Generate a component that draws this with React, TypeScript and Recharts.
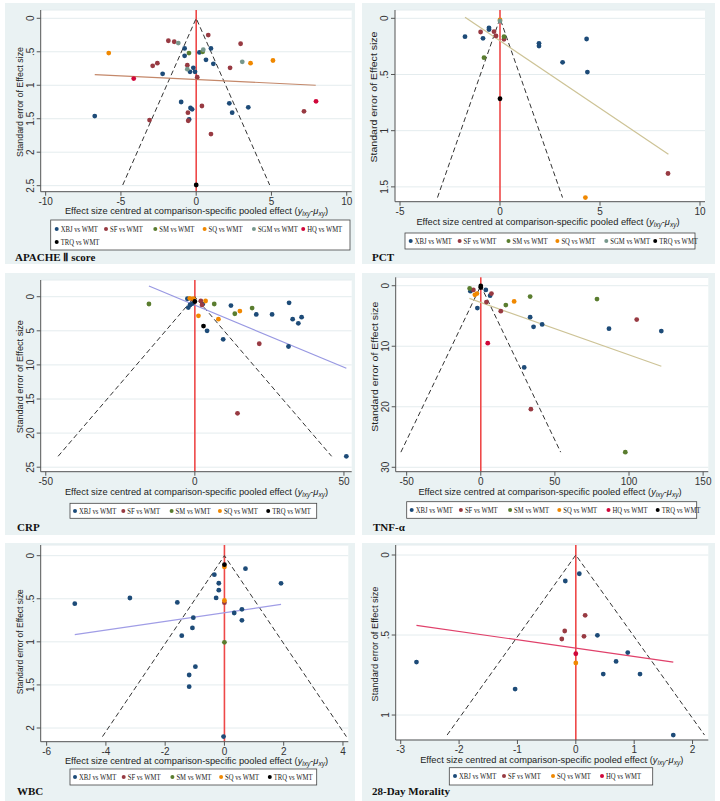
import React from 'react';
import { ScatterChart, Scatter, XAxis, YAxis, CartesianGrid, ReferenceLine } from 'recharts';

type Pt = [number, number];

// Stata s2color-like marker colours per comparison
const groupColors: Record<string, string> = {
  XBJ: '#1d4b78',
  SF: '#983a42',
  SM: '#5a7d2f',
  SQ: '#f08800',
  SGM: '#76978c',
  HQ: '#d0073a',
  TRQ: '#000000',
};

// ---- APACHE II score ----
const apacheXTicks = [-10, -5, 0, 5, 10];
const apacheYTicks = [0, 0.5, 1, 1.5, 2, 2.5];
const apacheXBJ: Pt[] = [[-6.74, 1.46], [-2.23, 0.83], [-0.77, 0.45], [-0.77, 0.56], [-0.19, 0.74], [-0.41, 0.8], [-0.08, 0.8], [0.21, 0.51], [0.98, 0.45], [0.65, 0.62], [1.14, 0.68], [-1.0, 1.25], [-0.38, 1.34], [-0.27, 1.36], [-0.47, 1.51], [2.2, 1.27], [2.39, 1.41], [3.46, 1.33]];
const apacheSF: Pt[] = [[-1.85, 0.335], [-1.46, 0.35], [0.8, 0.25], [2.95, 0.38], [-2.58, 0.67], [-2.89, 0.71], [-0.59, 0.7], [0.07, 0.88], [2.25, 0.74], [0.38, 1.31], [-0.55, 1.41], [-0.53, 1.53], [-3.1, 1.52], [0.98, 1.73], [7.16, 1.39]];
const apacheSM: Pt[] = [[-0.48, 0.52], [0.43, 0.5]];
const apacheSQ: Pt[] = [[-5.81, 0.52], [3.61, 0.67], [5.1, 0.63]];
const apacheSGM: Pt[] = [[-1.19, 0.37], [0.47, 0.47], [3.06, 0.65], [-0.59, 0.76]];
const apacheHQ: Pt[] = [[-4.15, 0.9], [7.96, 1.24]];
const apacheTRQ: Pt[] = [[0, 2.49]];
const apacheFit: Pt[] = [[-6.74, 0.84], [7.94, 1.0]];

// ---- PCT ----
const pctXTicks = [-5, 0, 5, 10];
const pctYTicks = [0, 0.5, 1, 1.5];
const pctXBJ: Pt[] = [[-1.75, 0.163], [-0.85, 0.178], [-0.55, 0.085], [-0.55, 0.1], [1.95, 0.223], [1.95, 0.247], [4.33, 0.184], [3.13, 0.392], [4.37, 0.478]];
const pctSF: Pt[] = [[-0.97, 0.122], [-0.3, 0.119], [-0.2, 0.157], [0.2, 0.187], [8.4, 1.381]];
const pctSM: Pt[] = [[-0.8, 0.35], [0.2, 0.163]];
const pctSQ: Pt[] = [[0, 0.015], [4.27, 1.595]];
const pctSGM: Pt[] = [[0, 0.024]];
const pctTRQ: Pt[] = [[0, 0.716]];
const pctFit: Pt[] = [[-1.75, -0.009], [8.42, 1.209]];

// ---- CRP ----
const crpXTicks = [-50, 0, 50];
const crpYTicks = [0, 5, 10, 15, 20, 25];
const crpXBJ: Pt[] = [[-2.5, 0.3], [-1.6, 1.2], [-2.2, 1.6], [-0.8, 1.0], [2.6, 1.1], [12.1, 1.3], [31.6, 0.9], [20.6, 2.6], [25.9, 2.6], [32.8, 3.3], [35.8, 3.0], [34.7, 3.9], [4.1, 5.0], [9.5, 6.25], [31.4, 7.3], [50.8, 23.4]];
const crpSF: Pt[] = [[-0.9, 0.35], [2.0, 0.6], [2.4, 1.2], [21.6, 6.9], [14.3, 17.1]];
const crpSM: Pt[] = [[-15.4, 1.07], [6.5, 1.07], [19.2, 1.66], [13.4, 2.5]];
const crpSQ: Pt[] = [[-1.7, 0.24], [-0.5, 0.3], [3.6, 0.63], [15.1, 2.1], [1.2, 2.8], [7.9, 3.3]];
const crpTRQ: Pt[] = [[0, 0.7], [2.9, 4.3]];
const crpFit: Pt[] = [[-15.4, -1.56], [50.8, 10.5]];

// ---- TNF-α ----
const tnfXTicks = [-50, 0, 50, 100, 150];
const tnfYTicks = [0, 10, 20, 30];
const tnfXBJ: Pt[] = [[-7.0, 0.9], [3.4, 0.7], [6.3, 1.65], [-2.3, 3.7], [33.3, 5.2], [35.6, 6.8], [41.4, 6.4], [86.5, 7.1], [121.8, 7.5], [29.3, 13.5]];
const tnfSF: Pt[] = [[-5.0, 0.7], [7.2, 1.3], [3.8, 2.7], [13.5, 4.2], [105.2, 5.6], [33.8, 20.4]];
const tnfSM: Pt[] = [[-7.5, 0.45], [16.9, 3.2], [33.3, 1.8], [78.4, 2.2], [97.5, 27.5]];
const tnfSQ: Pt[] = [[-4.0, 1.5], [-2.6, 1.3], [22.5, 2.6]];
const tnfHQ: Pt[] = [[4.7, 9.5]];
const tnfTRQ: Pt[] = [[0, 0.05], [0, 0.3]];
const tnfFit: Pt[] = [[-7.7, 2.1], [121.8, 13.3]];

// ---- WBC ----
const wbcXTicks = [-6, -4, -2, 0, 2, 4];
const wbcYTicks = [0, 0.5, 1, 1.5, 2];
const wbcXBJ: Pt[] = [[-5.05, 0.557], [-3.19, 0.491], [-1.59, 0.542], [-0.34, 0.22], [-0.19, 0.32], [-0.19, 0.4], [-0.28, 0.49], [0.71, 0.151], [1.91, 0.321], [0.59, 0.623], [0.33, 0.665], [0.59, 0.75], [-1.05, 0.72], [-1.08, 0.839], [-1.44, 0.928], [-0.98, 1.288], [-1.19, 1.385], [-1.19, 1.52], [-0.03, 2.1]];
const wbcSF: Pt[] = [[0, 0.545]];
const wbcSM: Pt[] = [[0, 1.006]];
const wbcSQ: Pt[] = [[0, 0.13], [0, 0.52]];
const wbcTRQ: Pt[] = [[0, 0.104]];
const wbcFit: Pt[] = [[-5.05, 0.917], [1.91, 0.565]];

// ---- 28-Day Morality ----
const mortXTicks = [-3, -2, -1, 0, 1, 2];
const mortYTicks = [0, 0.5, 1];
const mortXBJ: Pt[] = [[-2.73, 0.669], [-1.04, 0.8375], [-0.18, 0.1625], [0.06, 0.117], [0.37, 0.502], [0.89, 0.61], [0.69, 0.665], [0.47, 0.744], [1.1, 0.744], [1.67, 1.125]];
const mortSF: Pt[] = [[0.16, 0.377], [-0.19, 0.475], [-0.24, 0.525], [0.14, 0.508]];
const mortSQ: Pt[] = [[0, 0.675]];
const mortHQ: Pt[] = [[0, 0.617]];
const mortFit: Pt[] = [[-2.73, 0.44], [1.67, 0.669]];

type Box = { x: number; y: number; w: number; h: number };
type PanelCfg = {
  title: string;
  series: [string, Pt[]][];
  fit: Pt[];
  fitColor: string;
  xTicks: number[];
  yTicks: number[];
  xDomain: [number, number];
  yDomain: [number, number];
  box: Box;
  plot: Box;
  legend: { box: Box; rows: number[]; dot0: number; step: number; perRow: number };
  yTitle: { x: number; cy: number; len: number };
  xTitle: { cx: number; cy: number };
  titlePos: { x: number; y: number };
};

const panels: PanelCfg[] = [
  {
    title: 'APACHE Ⅱ score',
    series: [['XBJ', apacheXBJ], ['SF', apacheSF], ['SM', apacheSM], ['SQ', apacheSQ], ['SGM', apacheSGM], ['HQ', apacheHQ], ['TRQ', apacheTRQ]],
    fit: apacheFit, fitColor: '#c4886a',
    xTicks: apacheXTicks, yTicks: apacheYTicks,
    xDomain: [-10.33, 10.33], yDomain: [-0.124, 2.59],
    box: { x: 5, y: 3, w: 350, h: 261 },
    plot: { x: 40.7, y: 10, w: 311, h: 181.7 },
    legend: { box: { x: 50.7, y: 220, w: 299.3, h: 30 }, rows: [229, 242], dot0: 56.7, step: 49.3, perRow: 6 },
    yTitle: { x: 20, cy: 102, len: 110 },
    xTitle: { cx: 196.5, cy: 210.7 },
    titlePos: { x: 15, y: 261 },
  },
  {
    title: 'PCT',
    series: [['XBJ', pctXBJ], ['SF', pctSF], ['SM', pctSM], ['SQ', pctSQ], ['SGM', pctSGM], ['TRQ', pctTRQ]],
    fit: pctFit, fitColor: '#cdc396',
    xTicks: pctXTicks, yTicks: pctYTicks,
    xDomain: [-5.25, 10.25], yDomain: [-0.074, 1.632],
    box: { x: 362, y: 3, w: 353, h: 261 },
    plot: { x: 395, y: 10, w: 310, h: 191.7 },
    legend: { box: { x: 405, y: 233, w: 290, h: 16 }, rows: [241], dot0: 410.7, step: 48.9, perRow: 6 },
    yTitle: { x: 373.3, cy: 97, len: 131 },
    xTitle: { cx: 548, cy: 221.7 },
    titlePos: { x: 372, y: 261 },
  },
  {
    title: 'CRP',
    series: [['XBJ', crpXBJ], ['SF', crpSF], ['SM', crpSM], ['SQ', crpSQ], ['TRQ', crpTRQ]],
    fit: crpFit, fitColor: '#9898e2',
    xTicks: crpXTicks, yTicks: crpYTicks,
    xDomain: [-51.7, 52.6], yDomain: [-2.45, 25.66],
    box: { x: 5, y: 273, w: 350, h: 262 },
    plot: { x: 40.7, y: 280, w: 311, h: 191.7 },
    legend: { box: { x: 70, y: 503.3, w: 246.7, h: 15 }, rows: [511], dot0: 75, step: 48.3, perRow: 6 },
    yTitle: { x: 20, cy: 376.7, len: 113 },
    xTitle: { cx: 196.5, cy: 491.7 },
    titlePos: { x: 17, y: 531 },
  },
  {
    title: 'TNF-α',
    series: [['XBJ', tnfXBJ], ['SF', tnfSF], ['SM', tnfSM], ['SQ', tnfSQ], ['HQ', tnfHQ], ['TRQ', tnfTRQ]],
    fit: tnfFit, fitColor: '#cdc396',
    xTicks: tnfXTicks, yTicks: tnfYTicks,
    xDomain: [-57.4, 153.5], yDomain: [-1.39, 30.73],
    box: { x: 362, y: 273, w: 353, h: 262 },
    plot: { x: 395.7, y: 277.3, w: 312.6, h: 194.4 },
    legend: { box: { x: 406.7, y: 501.7, w: 290, h: 16.6 }, rows: [510], dot0: 411.7, step: 49.2, perRow: 6 },
    yTitle: { x: 375, cy: 366.7, len: 130 },
    xTitle: { cx: 550, cy: 491.7 },
    titlePos: { x: 373, y: 531 },
  },
  {
    title: 'WBC',
    series: [['XBJ', wbcXBJ], ['SF', wbcSF], ['SM', wbcSM], ['SQ', wbcSQ], ['TRQ', wbcTRQ]],
    fit: wbcFit, fitColor: '#a09de6',
    xTicks: wbcXTicks, yTicks: wbcYTicks,
    xDomain: [-6.2, 4.18], yDomain: [-0.124, 2.159],
    box: { x: 5, y: 543, w: 350, h: 258 },
    plot: { x: 40.7, y: 545, w: 307.6, h: 196.7 },
    legend: { box: { x: 70, y: 769, w: 246.7, h: 16 }, rows: [777], dot0: 75, step: 48.7, perRow: 6 },
    yTitle: { x: 20, cy: 641.7, len: 105 },
    xTitle: { cx: 196.5, cy: 761 },
    titlePos: { x: 17, y: 795 },
  },
  {
    title: '28-Day Morality',
    series: [['XBJ', mortXBJ], ['SF', mortSF], ['SQ', mortSQ], ['HQ', mortHQ]],
    fit: mortFit, fitColor: '#e0406a',
    xTicks: mortXTicks, yTicks: mortYTicks,
    xDomain: [-3.086, 2.27], yDomain: [-0.0625, 1.156],
    box: { x: 362, y: 543, w: 353, h: 258 },
    plot: { x: 395.7, y: 545, w: 312.6, h: 195 },
    legend: { box: { x: 449.3, y: 767.7, w: 203.4, h: 17.3 }, rows: [776], dot0: 455, step: 49, perRow: 6 },
    yTitle: { x: 375, cy: 644, len: 115 },
    xTitle: { cx: 551.7, cy: 760 },
    titlePos: { x: 372, y: 795 },
  },
];

const SANS = '"Liberation Sans", Arial, sans-serif';
const SERIF = '"Liberation Serif", "Times New Roman", serif';
const AXIS = '#555';
const Y_AXIS_W = 30;
const X_AXIS_H = 20;

const toPts = (a: Pt[]) => a.map(([x, y]) => ({ x, y }));
const fmtTick = (v: number) => (v === 0 ? '0' : String(v).replace(/^0\./, '.'));

function YTick(props: any) {
  const { x, y, payload } = props;
  const bx = x - 1;
  return (
    <text x={bx} y={y} transform={`rotate(-90 ${bx} ${y})`} textAnchor="middle" fontSize={10} fill="#333" fontFamily={SANS}>
      {fmtTick(payload.value)}
    </text>
  );
}

const dot = (color: string) => (p: any) => <circle cx={p.cx} cy={p.cy} r={2.4} fill={color} />;
const noDot = () => <g />;

function PanelChart({ cfg }: { cfg: PanelCfg }) {
  const { box, plot } = cfg;
  const seMax = Math.max(...cfg.series.flatMap(([, pts]) => pts.map((p) => p[1])));
  const funnel = [
    { x: -1.96 * seMax, y: seMax },
    { x: 0, y: 0 },
    { x: 1.96 * seMax, y: seMax },
  ];
  const margin = {
    left: plot.x - box.x - Y_AXIS_W,
    top: plot.y - box.y,
    right: box.x + box.w - (plot.x + plot.w),
    bottom: box.y + box.h - (plot.y + plot.h) - X_AXIS_H,
  };
  return (
    <div style={{ position: 'absolute', left: box.x, top: box.y, width: box.w, height: box.h, background: '#eaf2f3' }}>
      <ScatterChart width={box.w} height={box.h} margin={margin}>
        <CartesianGrid vertical={false} fill="#ffffff" fillOpacity={1} stroke="#e4ecee" />
        <XAxis
          type="number"
          dataKey="x"
          domain={cfg.xDomain}
          ticks={cfg.xTicks}
          allowDataOverflow
          height={X_AXIS_H}
          tickSize={4}
          tickMargin={2}
          stroke={AXIS}
          tick={{ fontSize: 10, fill: '#333', fontFamily: SANS }}
        />
        <YAxis
          type="number"
          dataKey="y"
          domain={cfg.yDomain}
          ticks={cfg.yTicks}
          allowDataOverflow
          reversed
          width={Y_AXIS_W}
          tickSize={4}
          tickMargin={2}
          stroke={AXIS}
          tick={<YTick />}
        />
        <ReferenceLine x={0} stroke="#ee4848" strokeWidth={1.6} />
        <Scatter
          data={funnel}
          line={{ stroke: '#333', strokeWidth: 1, strokeDasharray: '5 3' }}
          shape={noDot}
          isAnimationActive={false}
        />
        <Scatter
          data={toPts(cfg.fit)}
          line={{ stroke: cfg.fitColor, strokeWidth: 1.2 }}
          shape={noDot}
          isAnimationActive={false}
        />
        {cfg.series.map(([name, pts]) => (
          <Scatter key={name} name={`${name} vs WMT`} data={toPts(pts)} shape={dot(groupColors[name])} isAnimationActive={false} />
        ))}
      </ScatterChart>
    </div>
  );
}

function PanelText({ cfg }: { cfg: PanelCfg }) {
  const { legend, yTitle, xTitle } = cfg;
  const yb = yTitle.x + 3.4;
  return (
    <g>
      <text
        x={yb}
        y={yTitle.cy}
        transform={`rotate(-90 ${yb} ${yTitle.cy})`}
        textAnchor="middle"
        fontSize={9.5}
        fill="#222"
        fontFamily={SANS}
        textLength={yTitle.len}
        lengthAdjust="spacingAndGlyphs"
      >
        Standard error of Effect size
      </text>
      <text x={xTitle.cx} y={xTitle.cy + 3.4} textAnchor="middle" fontSize={9.3} fill="#222" fontFamily={SANS}>
        Effect size centred at comparison-specific pooled effect (
        <tspan fontStyle="italic">y</tspan>
        <tspan fontSize={6.5} fontStyle="italic" dy={2}>ixy</tspan>
        <tspan dy={-2}>-</tspan>
        <tspan fontStyle="italic">μ</tspan>
        <tspan fontSize={6.5} fontStyle="italic" dy={2}>xy</tspan>
        <tspan dy={-2}>)</tspan>
      </text>
      <rect x={legend.box.x} y={legend.box.y} width={legend.box.w} height={legend.box.h} fill="#fff" stroke="#444" strokeWidth={0.8} />
      {cfg.series.map(([name], i) => {
        const row = Math.floor(i / legend.perRow);
        const cx = legend.dot0 + (i % legend.perRow) * legend.step;
        const cy = legend.rows[row];
        return (
          <g key={name}>
            <circle cx={cx} cy={cy} r={2} fill={groupColors[name]} />
            <text
              transform={`translate(${cx + 4} ${cy + 3}) scale(0.74 1)`}
              fontSize={9}
              fill="#222"
              fontFamily={SERIF}
            >
              {`${name} vs WMT`}
            </text>
          </g>
        );
      })}
      <text x={cfg.titlePos.x} y={cfg.titlePos.y} fontSize={11} fontWeight="bold" fill="#111" fontFamily={SERIF}>
        {cfg.title}
      </text>
    </g>
  );
}

export default function App() {
  return (
    <div style={{ position: 'absolute', left: 0, top: 0, width: 720, height: 801, background: '#fff', overflow: 'hidden' }}>
      {panels.map((p) => (
        <PanelChart key={p.title} cfg={p} />
      ))}
      <svg width={720} height={801} style={{ position: 'absolute', left: 0, top: 0, pointerEvents: 'none' }}>
        {panels.map((p) => (
          <PanelText key={p.title} cfg={p} />
        ))}
      </svg>
    </div>
  );
}
